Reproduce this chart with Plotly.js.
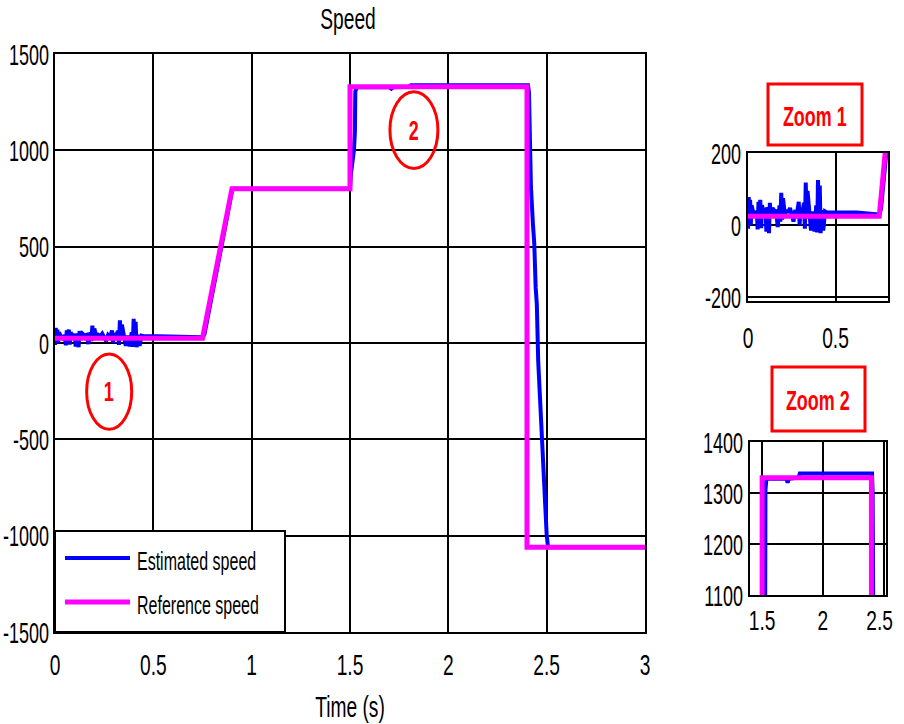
<!DOCTYPE html>
<html>
<head>
<meta charset="utf-8">
<script src="https://cdn.plot.ly/plotly-3.0.1.min.js"></script>
<style>html,body{margin:0;padding:0;background:#fff;}#chart{width:904px;height:724px;}</style>
</head>
<body>
<div id="chart"></div>
<script>
// ---- data ----
const timeRef  = [0, 0.75, 0.9, 1.5, 1.5, 2.4, 2.4, 3];
const speedRef = [25, 25, 800, 800, 1330, 1330, -1060, -1060];

const timeEst = [0,0.004,0.008,0.012,0.016,0.02,0.03,0.04,0.05,0.055,0.06,0.065,0.07,0.075,0.08,0.09,0.1,0.105,0.11,0.12,0.125,0.13,0.14,0.15,0.16,0.17,0.18,0.185,0.19,0.195,0.2,0.21,0.22,0.23,0.24,0.25,0.26,0.27,0.28,0.29,0.295,0.3,0.31,0.32,0.325,0.33,0.335,0.34,0.35,0.36,0.37,0.38,0.39,0.395,0.4,0.405,0.41,0.415,0.42,0.43,0.44,0.45,0.52,0.62,0.75,0.76,0.8,0.85,0.9,0.91,1.5,1.505,1.52,1.525,1.527,1.535,1.7,1.71,1.72,1.8,1.81,2.405,2.41,2.415,2.42,2.43,2.437,2.444,2.45,2.457,2.466,2.474,2.482,2.49,2.5,2.507,3];
const speedEst = [-10,78,5,70,0,55,35,25,40,-12,65,20,70,-8,55,35,45,-18,50,-22,62,25,48,38,42,-5,55,10,90,15,75,30,42,35,48,30,10,42,32,65,0,48,35,62,-10,118,18,95,30,-15,38,-18,55,-20,125,8,110,-22,42,-15,38,35,35,35,30,45,250,520,790,800,800,880,1000,1100,1305,1328,1328,1320,1328,1330,1338,1338,1300,1000,810,620,515,290,200,-95,-285,-450,-630,-820,-995,-1060,-1060];

const seriesNames = ['Estimated speed', 'Reference speed'];
const mainXTicks = [0, 0.5, 1, 1.5, 2, 2.5, 3];
const mainYTicks = [-1500, -1000, -500, 0, 500, 1000, 1500];
const zoom1XTicks = [0, 0.5];
const zoom1YTicks = [-200, 0, 200];
const zoom2XTicks = [1.5, 2, 2.5];
const zoom2YTicks = [1100, 1200, 1300, 1400];

// ---- layout helpers ----
const W = 904, H = 724;
const px = v => v / W;
const py = v => 1 - v / H;
const FONT = 'Liberation Sans, Arial, Helvetica, sans-serif';
const BLUE = '#0000ff', PINK = '#ff00ff', RED = '#ff0000';
const CONDENSE = 0.64, CONDENSE_Y = 0.6, CONDENSE_X3 = 0.71;

const traces = [];
[['x','y'],['x2','y2'],['x3','y3']].forEach(([xa, ya]) => {
  traces.push({x: timeEst, y: speedEst, type: 'scatter', mode: 'lines', name: seriesNames[0],
    xaxis: xa, yaxis: ya, line: {color: BLUE, width: 4}, showlegend: false, hoverinfo: 'x+y'});
  traces.push({x: timeRef, y: speedRef, type: 'scatter', mode: 'lines', name: seriesNames[1],
    xaxis: xa, yaxis: ya, line: {color: PINK, width: 5}, showlegend: false, hoverinfo: 'x+y'});
});

function axis(domain, range, ticks, extra) {
  return Object.assign({
    domain: domain, range: range, tickvals: ticks, ticktext: ticks.map(String),
    showgrid: true, gridcolor: '#000', gridwidth: 2,
    showline: true, linecolor: '#000', linewidth: 2, mirror: true,
    zeroline: false, ticks: '', fixedrange: true, automargin: false,
    ticklabeloverflow: 'allow',
    tickfont: {family: FONT, size: 30, color: '#000'}
  }, extra || {});
}

const shapes = [
  // legend box
  {type: 'rect', xref: 'paper', yref: 'paper', x0: px(55), x1: px(285), y0: py(632), y1: py(531),
   line: {color: '#000', width: 2}, fillcolor: '#fff', layer: 'above'},
  {type: 'line', xref: 'paper', yref: 'paper', x0: px(65), x1: px(130), y0: py(558), y1: py(558),
   line: {color: BLUE, width: 4}, layer: 'above'},
  {type: 'line', xref: 'paper', yref: 'paper', x0: px(65), x1: px(130), y0: py(602), y1: py(602),
   line: {color: PINK, width: 5}, layer: 'above'},
  // ellipses
  {type: 'circle', xref: 'x', yref: 'y', x0: 0.161, x1: 0.39, y0: -448, y1: -57,
   line: {color: RED, width: 3}, layer: 'above'},
  {type: 'circle', xref: 'x', yref: 'y', x0: 1.703, x1: 1.947, y0: 906, y1: 1304,
   line: {color: RED, width: 3}, layer: 'above'},
  // zoom label boxes
  {type: 'rect', xref: 'paper', yref: 'paper', x0: px(768), x1: px(862), y0: py(145), y1: py(84),
   line: {color: RED, width: 3}},
  {type: 'rect', xref: 'paper', yref: 'paper', x0: px(772), x1: px(865), y0: py(431), y1: py(367),
   line: {color: RED, width: 3}}
];

const annotations = [
  {xref: 'paper', yref: 'paper', x: px(135), y: py(561), xanchor: 'left', yanchor: 'middle', align: 'left',
   showarrow: false, text: seriesNames[0], font: {family: FONT, size: 25, color: '#000'}},
  {xref: 'paper', yref: 'paper', x: px(135), y: py(605), xanchor: 'left', yanchor: 'middle', align: 'left',
   showarrow: false, text: seriesNames[1], font: {family: FONT, size: 25, color: '#000'}},
  {xref: 'x', yref: 'y', x: 0.2755, y: -252, xanchor: 'center', yanchor: 'middle', showarrow: false, text: '1',
   font: {family: FONT, size: 28, weight: 700, color: RED}},
  {xref: 'x', yref: 'y', x: 1.825, y: 1105, xanchor: 'center', yanchor: 'middle', showarrow: false, text: '2',
   font: {family: FONT, size: 28, weight: 700, color: RED}},
  {xref: 'paper', yref: 'paper', x: px(815), y: py(116), xanchor: 'center', yanchor: 'middle', showarrow: false,
   text: 'Zoom 1', font: {family: FONT, size: 28, weight: 700, color: RED}},
  {xref: 'paper', yref: 'paper', x: px(818), y: py(400), xanchor: 'center', yanchor: 'middle', showarrow: false,
   text: 'Zoom 2', font: {family: FONT, size: 28, weight: 700, color: RED}}
];

const layout = {
  width: W, height: H,
  margin: {l: 0, r: 0, t: 0, b: 0, pad: 0},
  paper_bgcolor: '#fff', plot_bgcolor: '#fff',
  showlegend: false,
  title: {text: 'Speed', x: px(348), xanchor: 'center', y: py(18), yanchor: 'middle',
          font: {family: FONT, size: 30, color: '#000'}},
  xaxis: axis([px(55), px(645)], [0, 3], mainXTicks,
    {anchor: 'y', ticklabelstandoff: 5,
     title: {text: 'Time (s)', standoff: 16, font: {family: FONT, size: 30, color: '#000'}}}),
  yaxis: axis([py(632), py(54)], [-1500, 1500], mainYTicks, {anchor: 'x', ticklabelstandoff: 0}),
  xaxis2: axis([px(748), px(888)], [0, 0.8], zoom1XTicks, {anchor: 'y2', ticklabelstandoff: 9}),
  yaxis2: axis([py(301), py(153)], [-210, 200], zoom1YTicks, {anchor: 'x2', ticklabelstandoff: 1}),
  xaxis3: axis([px(750), px(886)], [1.4, 2.52], zoom2XTicks,
    {anchor: 'y3', ticklabelstandoff: 1, tickfont: {family: FONT, size: 27, color: '#000'}}),
  yaxis3: axis([py(595), py(442)], [1100, 1400], zoom2YTicks, {anchor: 'x3', ticklabelstandoff: 1}),
  shapes: shapes,
  annotations: annotations
};

Plotly.newPlot('chart', traces, layout, {displayModeBar: false, staticPlot: true}).then(gd => {
  // the reference uses a tall, condensed face: squeeze every text horizontally
  gd.querySelectorAll('svg text').forEach(el => {
    const w = el.getComputedTextLength();
    if (w <= 0) return;
    const g = el.parentNode;
    const cls = (g && g.getAttribute && g.getAttribute('class')) || '';
    const isY = /^y\d*tick$/.test(cls);
    const f = isY ? CONDENSE_Y : (cls === 'x3tick' ? CONDENSE_X3 : CONDENSE);
    el.setAttribute('textLength', (w * f).toFixed(2));
    el.setAttribute('lengthAdjust', 'spacingAndGlyphs');
    if (isY) el.setAttribute('x', (parseFloat(el.getAttribute('x') || 0) + 2).toFixed(2));
    // last label of the small lower panel sits at the page edge: nudge it inward like the reference
    if (cls === 'x3tick' && el.textContent === '2.5') {
      el.setAttribute('x', (parseFloat(el.getAttribute('x') || 0) - 4).toFixed(2));
    }
  });
});
</script>
</body>
</html>
